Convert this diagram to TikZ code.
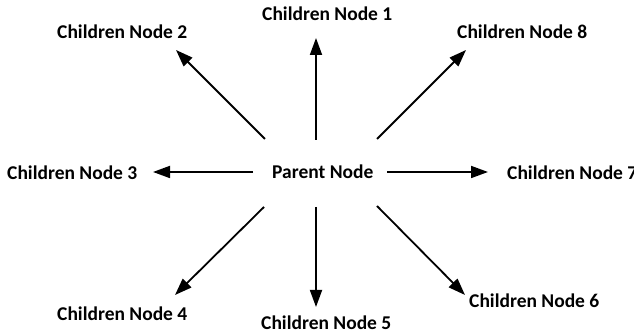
\documentclass[tikz,border=0pt]{standalone}
\usepackage{fontspec}
\setmainfont{Carlito}
\usetikzlibrary{arrows.meta}
\begin{document}
\begin{tikzpicture}[x=1pt,y=1pt,
  lbl/.style={anchor=base west,inner sep=0pt,font=\fontsize{19.5}{22}\selectfont\bfseries},
  arr/.style={line width=1.8pt,-{Triangle[length=17pt,width=12pt]}}]
\useasboundingbox (0,0) rectangle (634,336);
% parent and children, placed by the left end of their baselines
\node[lbl] (p)  at (272,157) {Parent Node};
\node[lbl] (c1) at (262,315) {Children Node 1};
\node[lbl] (c2) at (57,297)  {Children Node 2};
\node[lbl] (c8) at (457,297) {Children Node 8};
\node[lbl] (c3) at (7,156)   {Children Node 3};
\node[lbl] (c7) at (507,156) {Children Node 7};
\node[lbl] (c4) at (57,15)   {Children Node 4};
\node[lbl] (c5) at (261,6)   {Children Node 5};
\node[lbl] (c6) at (469,28)  {Children Node 6};
% arrows from the parent out to each child
\draw[arr] ([shift={(44,39)}]p.base west)   -- ([shift={(54,-17)}]c1.base west);
\draw[arr] ([shift={(-7,40)}]p.base west)   -- ([shift={(119,-11)}]c2.base west);
\draw[arr] ([shift={(105,40)}]p.base west)  -- ([shift={(9,-11)}]c8.base west);
\draw[arr] ([shift={(-19,7)}]p.base west)   -- ([shift={(146,8)}]c3.base west);
\draw[arr] ([shift={(115,7)}]p.base west)   -- ([shift={(-19,8)}]c7.base west);
\draw[arr] ([shift={(-8,-28)}]p.base west)  -- ([shift={(118,26)}]c4.base west);
\draw[arr] ([shift={(44,-28)}]p.base west)  -- ([shift={(55,23)}]c5.base west);
\draw[arr] ([shift={(105,-27)}]p.base west) -- ([shift={(-4,13)}]c6.base west);
\end{tikzpicture}
\end{document}
